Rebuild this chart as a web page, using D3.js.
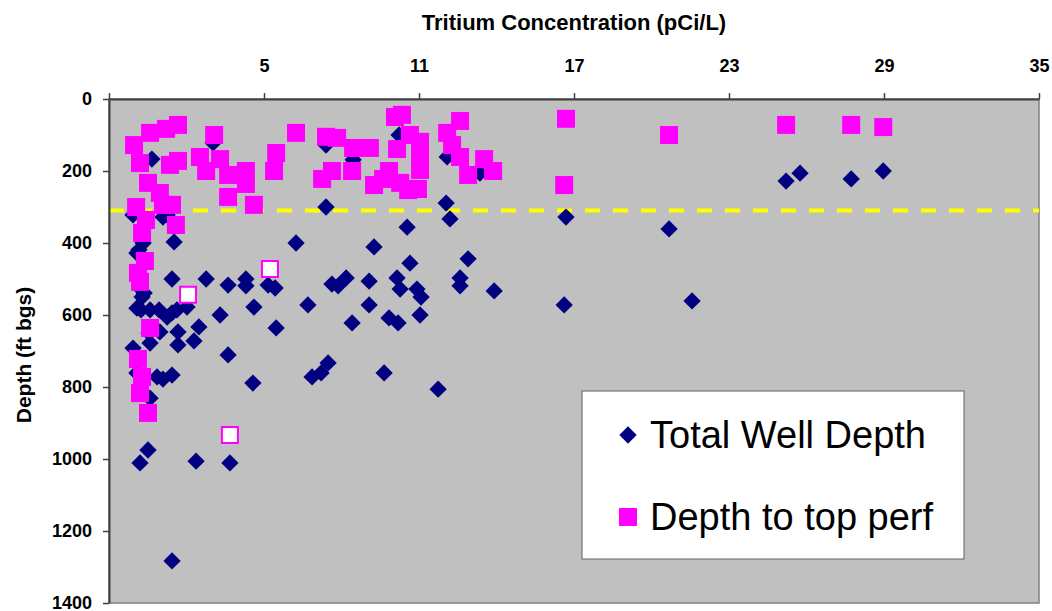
<!DOCTYPE html>
<html>
<head>
<meta charset="utf-8">
<script src="https://cdn.jsdelivr.net/npm/d3@7"></script>
<style>
  body { margin: 0; background: #fff; }
  text { font-family: Arial, "Liberation Sans", sans-serif; }
</style>
</head>
<body>
<script>
// tritium (pCi/L) vs total well depth (ft bgs)
var wellDepth = [
  [0.66,167],[3.03,122],[1.09,328],[-0.07,322],[0.32,400],[1.52,397],[6.24,400],[0.08,428],
  [1.44,500],[2.76,500],[3.61,517],[4.30,500],[4.30,519],[5.16,517],[5.43,525],[0.20,525],
  [0.28,550],[0.08,581],[0.59,586],[0.94,586],[1.44,594],[2.02,578],[3.30,600],[4.61,578],
  [6.70,572],[5.47,636],[2.48,633],[1.67,647],[0.97,647],[0.55,650],
  [0.16,419],[0.36,539],[0.24,586],[1.25,606],[1.63,586],[1.25,322],
  [-0.07,692],[0.59,678],[1.67,683],[2.29,672],[3.61,711],[0.08,761],[0.86,772],[1.09,778],
  [1.44,767],[4.57,789],[6.86,772],[0.59,831],[0.51,975],[0.20,1011],[2.37,1006],[3.68,1011],
  [1.44,1283],
  [7.40,128],[8.45,169],[10.23,100],[12.09,161],[13.36,206],[7.40,300],[12.05,289],[12.20,333],
  [10.54,356],[9.26,411],[10.65,456],[12.90,444],[8.18,497],[7.63,514],[7.87,519],[9.07,506],
  [10.15,497],[10.27,528],[12.59,497],[12.59,519],[10.92,528],[11.08,550],[13.91,533],[9.07,572],
  [11.04,600],[8.41,622],[9.84,608],[10.19,622],
  [7.21,761],[7.48,733],[9.65,761],[11.74,806],
  [25.21,228],[25.75,206],[27.73,222],[28.97,200],[16.69,328],[20.68,361],[16.62,572],[21.57,561]
];

// tritium vs depth to top of perforations
var perfDepth = [
  [-0.03,128],[0.59,94],[1.21,83],[1.67,72],[0.20,178],[1.36,183],[1.67,172],[3.07,100],
  [2.52,161],[2.76,200],[3.30,167],[3.61,211],[4.30,200],[4.30,236],[3.61,272],[4.61,294],
  [0.51,233],[0.97,261],[0.05,300],[1.44,294],[1.09,294],[0.43,336],[1.59,350],[0.28,372],
  [0.39,450],[0.12,483],[0.20,508],[0.59,636],[5.47,150],[5.39,200],[6.24,94],
  [0.12,722],[0.28,772],[0.20,817],[0.51,872],
  [10.34,44],[10.07,50],[7.40,105],[7.83,108],[8.45,136],[9.10,136],[10.65,100],[11.04,119],
  [11.04,156],[10.15,139],[11.04,197],[12.09,94],[12.59,61],[12.28,128],[12.59,161],[13.52,167],
  [13.87,200],[12.90,211],[7.25,222],[7.63,200],[8.41,200],[9.26,239],[9.84,200],[9.61,222],
  [10.27,233],[10.58,253],[10.96,250],
  [16.69,55],[20.68,100],[25.21,72],[27.73,72],[28.97,78],[16.62,239]
];

// perf points drawn hollow
var perfOpen = [[5.23,472],[2.06,544],[3.68,933]];

var xTicks = [-1,5,11,17,23,29,35];
var yTicks = [0,200,400,600,800,1000,1200,1400];
var refDepth = 310; // dashed reference line
var legendLabels = ["Total Well Depth","Depth to top perf"];

var w = 1052, h = 611;
var plotL = 109, plotR = 1039, plotT = 99, plotB = 603; //window.top is taken, so no "top"

var svg = d3.select("body").append("svg")
  .attr("width", w)
  .attr("height", h);

var x = d3.scaleLinear().domain([-1,35]).range([plotL,plotR]);
var y = d3.scaleLinear().domain([0,1400]).range([plotT,plotB]);

//plot area
svg.append("rect")
  .attr("x", plotL).attr("y", plotT)
  .attr("width", plotR-plotL).attr("height", plotB-plotT)
  .attr("fill", "#c0c0c0")
  .attr("stroke", "#808080")
  .attr("stroke-width", 1.5);

//reference line
svg.append("line")
  .attr("x1", plotL).attr("x2", plotR)
  .attr("y1", y(refDepth)).attr("y2", y(refDepth))
  .attr("stroke", "#ffff00")
  .attr("stroke-width", 4)
  .attr("stroke-dasharray", "15,13");

//points
var diamond = d3.symbol().type(d3.symbolSquare).size(150);
var square = d3.symbol().type(d3.symbolSquare).size(324);

svg.append("g").selectAll("path")
  .data(wellDepth)
  .enter().append("path")
  .attr("d", diamond)
  .attr("transform", function(d){ return "translate(" + x(d[0]) + "," + y(d[1]) + ") rotate(45)"; })
  .attr("fill", "#000080");

svg.append("g").selectAll("path")
  .data(perfDepth)
  .enter().append("path")
  .attr("d", square)
  .attr("transform", function(d){ return "translate(" + x(d[0]) + "," + y(d[1]) + ")"; })
  .attr("fill", "#ff00ff");

svg.append("g").selectAll("path")
  .data(perfOpen)
  .enter().append("path")
  .attr("d", d3.symbol().type(d3.symbolSquare).size(256))
  .attr("transform", function(d){ return "translate(" + x(d[0]) + "," + y(d[1]) + ")"; })
  .attr("fill", "#fff")
  .attr("stroke", "#ff00ff")
  .attr("stroke-width", 2);

//axes
var xAxis = svg.append("g")
  .attr("transform", "translate(0," + plotT + ")")
  .call(d3.axisTop(x).tickValues(xTicks).tickSize(6).tickSizeOuter(0)
    .tickFormat(function(d){ return d < 0 ? "" : d; }));

var yAxis = svg.append("g")
  .attr("transform", "translate(" + plotL + ",0)")
  .call(d3.axisLeft(y).tickValues(yTicks).tickSize(6).tickSizeOuter(0)
    .tickFormat(d3.format("d")));

[xAxis, yAxis].forEach(function(g){
  g.select(".domain").attr("stroke", "#404040").attr("stroke-width", 2);
  g.selectAll(".tick line").attr("stroke", "#404040").attr("stroke-width", 1.5);
  g.selectAll(".tick text")
    .attr("fill", "#000")
    .style("font-size", "18px")
    .style("font-weight", "bold");
});
xAxis.selectAll(".tick text").attr("y", -27).attr("dy", 0);
yAxis.selectAll(".tick text").attr("x", -17);

//titles
svg.append("text")
  .attr("x", (plotL+plotR)/2).attr("y", 30)
  .attr("text-anchor", "middle")
  .style("font-size", "22px").style("font-weight", "bold")
  .text("Tritium Concentration (pCi/L)");

svg.append("text")
  .attr("transform", "translate(31,355) rotate(-90)")
  .attr("text-anchor", "middle")
  .style("font-size", "21px").style("font-weight", "bold")
  .text("Depth (ft bgs)");

//legend
var legend = svg.append("g").attr("transform", "translate(582,391)");
legend.append("rect")
  .attr("width", 382).attr("height", 168)
  .attr("fill", "#fff")
  .attr("stroke", "#606060");

legend.selectAll(".lg")
  .data(legendLabels)
  .enter().append("g")
  .attr("transform", function(d,i){ return "translate(46," + (44 + i*82) + ")"; })
  .each(function(d,i){
    var g = d3.select(this);
    if (i == 0) {
      g.append("path").attr("d", diamond).attr("transform", "rotate(45)").attr("fill", "#000080");
    } else {
      g.append("path").attr("d", square).attr("fill", "#ff00ff");
    }
    g.append("text")
      .attr("x", 22).attr("y", 13)
      .style("font-size", "38px")
      .text(d);
  });
</script>
</body>
</html>
